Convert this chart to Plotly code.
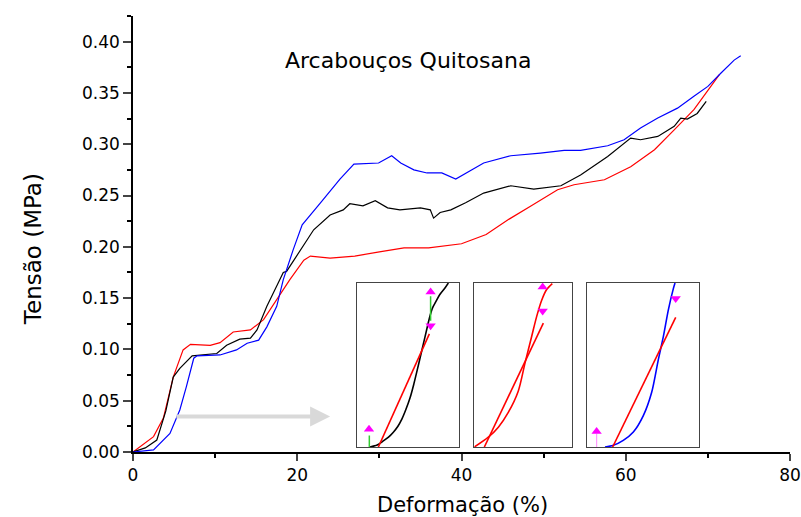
import plotly.graph_objects as go

# curvas principais (deformação %, tensão MPa)
def_vermelho = [0, 1.2, 2.5, 3.7, 4.9, 6.1, 7.0, 9.4, 10.6, 12.2, 14.3, 15.9, 17.9, 19.1, 20.8,
                21.6, 24, 27, 30, 33, 36, 40, 43, 45.8, 48.5, 51.7, 53.7, 57.4, 60.6, 63.5,
                65.9, 68.3, 71.4]
ten_vermelho = [0, 0.007, 0.015, 0.033, 0.073, 0.0995, 0.105, 0.104, 0.1066, 0.117, 0.119, 0.129,
                0.153, 0.168, 0.187, 0.191, 0.189, 0.191, 0.195, 0.199, 0.199, 0.203, 0.212,
                0.227, 0.240, 0.2556, 0.2605, 0.2654, 0.278, 0.2946, 0.314, 0.3337, 0.3678]

def_preto = [0, 1.5, 2.9, 4.0, 4.9, 5.7, 7.2, 10.2, 11.4, 13.0, 14.3, 15.1, 16.3, 18.3, 18.7,
             20.4, 22.0, 24.0, 25.6, 26.4, 28, 29.5, 31, 32.5, 35, 36.2, 36.6, 37.4, 38.7,
             40.5, 42.7, 46, 48.8, 52.1, 54.5, 57.8, 60.6, 61.8, 63.9, 65.9, 66.7, 67.5,
             68.7, 69.8]
ten_preto = [0, 0.004, 0.0117, 0.04, 0.073, 0.0816, 0.0937, 0.096, 0.104, 0.11, 0.111, 0.119,
             0.142, 0.175, 0.176, 0.197, 0.2166, 0.231, 0.236, 0.242, 0.240, 0.245, 0.238,
             0.236, 0.238, 0.236, 0.228, 0.2335, 0.236, 0.243, 0.2524, 0.2595, 0.2563,
             0.2595, 0.270, 0.288, 0.306, 0.3044, 0.3076, 0.3174, 0.3255, 0.3245, 0.330,
             0.3418]

def_azul = [0, 2.5, 4.5, 5.7, 6.5, 7.4, 7.8, 10.6, 12.6, 13.9, 15.3, 16.3, 17.5, 18.3, 19.5,
            20.6, 22.8, 25.2, 26.9, 29.9, 31.5, 32.6, 34.2, 35.8, 37.6, 39.3, 42.7, 46,
            49.6, 52.5, 54.5, 57.8, 59.8, 61.8, 63.9, 66.3, 68.3, 70, 71.6, 73.2, 74]
ten_azul = [0, 0.002, 0.018, 0.041, 0.0637, 0.0914, 0.0937, 0.0946, 0.0995, 0.106, 0.109,
            0.122, 0.142, 0.168, 0.197, 0.2215, 0.2426, 0.266, 0.2807, 0.2817, 0.2888,
            0.2817, 0.275, 0.272, 0.272, 0.266, 0.2817, 0.2888, 0.2914, 0.294, 0.294,
            0.2985, 0.3044, 0.3158, 0.3255, 0.3352, 0.3467, 0.3564, 0.3694, 0.382, 0.3863]

# detalhes (coordenadas normalizadas em cada quadro)
q1_curva_x = [0.13, 0.2, 0.26, 0.31, 0.357, 0.40, 0.44, 0.48, 0.52, 0.555, 0.59, 0.62, 0.65,
              0.68, 0.71, 0.74, 0.77, 0.81, 0.86, 0.893]
q1_curva_y = [0, 0.012, 0.037, 0.06, 0.09, 0.125, 0.17, 0.23, 0.30, 0.38, 0.47, 0.55, 0.63,
              0.71, 0.79, 0.85, 0.885, 0.93, 0.97, 1.0]
q1_ajuste_x = [0.211, 0.708]
q1_ajuste_y = [0, 0.69]

q2_curva_x = [0, 0.144, 0.247, 0.349, 0.452, 0.521, 0.589, 0.64, 0.692, 0.743, 0.801]
q2_curva_y = [0, 0.06, 0.121, 0.211, 0.342, 0.513, 0.674, 0.795, 0.895, 0.96, 0.996]
q2_ajuste_x = [0.103, 0.709]
q2_ajuste_y = [0, 0.755]

q3_curva_x = [0.158, 0.232, 0.321, 0.411, 0.5, 0.574, 0.634, 0.679, 0.723, 0.768, 0.783]
q3_curva_y = [0, 0.01, 0.04, 0.091, 0.191, 0.332, 0.533, 0.674, 0.835, 0.966, 1.0]
q3_ajuste_x = [0.226, 0.789]
q3_ajuste_y = [0, 0.791]

FONTE = "DejaVu Sans, Arial, sans-serif"

fig = go.Figure()

for xs, ys, cor in [(def_vermelho, ten_vermelho, "#ff0000"),
                    (def_preto, ten_preto, "#000000"),
                    (def_azul, ten_azul, "#0000ff")]:
    fig.add_trace(go.Scatter(x=xs, y=ys, mode="lines", line=dict(color=cor, width=1.2),
                             showlegend=False))

# quadros de detalhe
quadros = [
    ("x2", "y2", q1_curva_x, q1_curva_y, "#000000", q1_ajuste_x, q1_ajuste_y),
    ("x3", "y3", q2_curva_x, q2_curva_y, "#ff0000", q2_ajuste_x, q2_ajuste_y),
    ("x4", "y4", q3_curva_x, q3_curva_y, "#0000ff", q3_ajuste_x, q3_ajuste_y),
]
for xa, ya, cx, cy, cor, ax_, ay_ in quadros:
    fig.add_trace(go.Scatter(x=cx, y=cy, mode="lines",
                             line=dict(color=cor, width=1.6, shape="spline", smoothing=0.8),
                             xaxis=xa, yaxis=ya, showlegend=False))
    fig.add_trace(go.Scatter(x=ax_, y=ay_, mode="lines", line=dict(color="#ff0000", width=1.6),
                             xaxis=xa, yaxis=ya, showlegend=False))

# marcadores (verde / magenta)
fig.add_trace(go.Scatter(x=[0.123, 0.123, None, 0.72, 0.72], y=[0, 0.07, None, 0.77, 0.92],
                         mode="lines", line=dict(color="#33cc33", width=1.5),
                         xaxis="x2", yaxis="y2", showlegend=False))
fig.add_trace(go.Scatter(x=[0.083, 0.083], y=[0, 0.08], mode="lines",
                         line=dict(color="#ff99ff", width=1.2),
                         xaxis="x4", yaxis="y4", showlegend=False))
for xa, ya, xs, ys, simb in [
    ("x2", "y2", [0.12, 0.72], [0.108, 0.945], "triangle-up"),
    ("x2", "y2", [0.72], [0.74], "triangle-down"),
    ("x3", "y3", [0.702], [0.975], "triangle-up"),
    ("x3", "y3", [0.702], [0.83], "triangle-down"),
    ("x4", "y4", [0.083], [0.095], "triangle-up"),
    ("x4", "y4", [0.789], [0.905], "triangle-down"),
]:
    fig.add_trace(go.Scatter(x=xs, y=ys, mode="markers",
                             marker=dict(symbol=simb, size=9, color="#ff00ff"),
                             xaxis=xa, yaxis=ya, showlegend=False))

eixo_quadro = dict(range=[0, 1], showticklabels=False, ticks="", showgrid=False,
                   zeroline=False, showline=True, mirror=True, linecolor="#444444",
                   linewidth=1)
dom_y = [0.0115, 0.3876]

fig.update_layout(
    width=801, height=517,
    margin=dict(l=133, r=11, t=16, b=65, autoexpand=False),
    plot_bgcolor="white", paper_bgcolor="white",
    font=dict(family=FONTE, size=17, color="black"),
    xaxis=dict(range=[0, 80], tickvals=[0, 20, 40, 60, 80], ticks="outside", ticklen=7,
               tickwidth=1.5, showline=True, linecolor="black", linewidth=1.5,
               showgrid=False, zeroline=False,
               minor=dict(ticks="outside", ticklen=4, tickvals=[10, 30, 50, 70],
                          tickcolor="black", tickwidth=1.5)),
    yaxis=dict(range=[0, 0.425], tickvals=[0, 0.05, 0.1, 0.15, 0.2, 0.25, 0.3, 0.35, 0.4],
               tickformat=".2f", ticks="outside", ticklen=8, tickwidth=1.5,
               showline=True, linecolor="black", linewidth=1.5,
               showgrid=False, zeroline=False,
               minor=dict(ticks="outside", ticklen=4,
                          tickvals=[0.025, 0.075, 0.125, 0.175, 0.225, 0.275, 0.325, 0.375, 0.425],
                          tickcolor="black", tickwidth=1.5)),
    xaxis2=dict(domain=[0.3405, 0.4967], anchor="y2", **eixo_quadro),
    yaxis2=dict(domain=dom_y, anchor="x2", **eixo_quadro),
    xaxis3=dict(domain=[0.5195, 0.6677], anchor="y3", **eixo_quadro),
    yaxis3=dict(domain=dom_y, anchor="x3", **eixo_quadro),
    xaxis4=dict(domain=[0.6915, 0.862], anchor="y4", **eixo_quadro),
    yaxis4=dict(domain=dom_y, anchor="x4", **eixo_quadro),
)

fig.add_annotation(x=24.0, y=0.0346, ax=5.1, ay=0.0346, xref="x", yref="y",
                   axref="x", ayref="y", showarrow=True, arrowhead=2, arrowsize=1,
                   arrowwidth=4, arrowcolor="#d9d9d9", text="")
textos = [
    ("Arcabouços Quitosana", 0.4186, 0.897, 0, 22),
    ("Deformação (%)", 0.5015, -0.121, 0, 21),
    ("Tensão (MPa)", -0.152, 0.4656, -90, 23),
]
for texto, px, py, ang, tam in textos:
    fig.add_annotation(x=px, y=py, xref="paper", yref="paper", showarrow=False,
                       xanchor="center", yanchor="middle", text=texto, textangle=ang,
                       font=dict(size=tam))

# remove a margem padrão do <body> para alinhar a figura ao canto da janela
fig.write_html("out.html", config={"displayModeBar": False},
               post_script="document.body.style.margin='0';")
